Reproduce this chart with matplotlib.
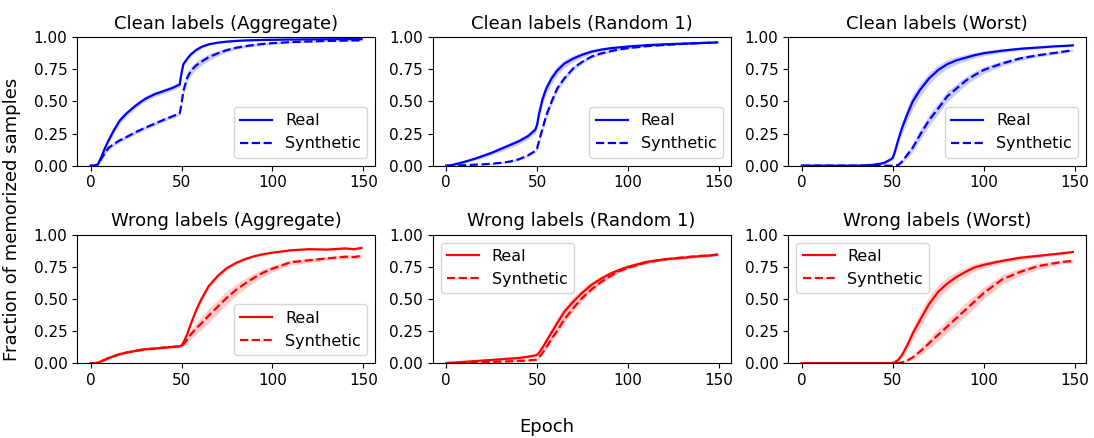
import numpy as np
import matplotlib
matplotlib.use("Agg")
import matplotlib.pyplot as plt

epochs = [0, 2, 4, 6, 8, 10, 13, 16, 20, 25, 30, 35, 40, 45, 49, 50, 51, 53, 55, 58,
          61, 65, 70, 75, 80, 85, 90, 95, 100, 110, 120, 130, 140, 145, 149]

# clean labels
clean_agg_real = [0, 0, 0.01, 0.07, 0.14, 0.2, 0.28, 0.35, 0.41, 0.47, 0.52, 0.555, 0.58, 0.605, 0.632, 0.72, 0.79, 0.83, 0.865, 0.9,
                  0.925, 0.945, 0.958, 0.966, 0.971, 0.975, 0.977, 0.979, 0.98, 0.982, 0.983, 0.984, 0.985, 0.985, 0.985]
clean_agg_syn = [0, 0, 0.01, 0.057, 0.1, 0.14, 0.17, 0.197, 0.225, 0.262, 0.295, 0.325, 0.356, 0.384, 0.407, 0.48, 0.58, 0.68, 0.735, 0.78,
                 0.81, 0.845, 0.875, 0.9, 0.918, 0.93, 0.94, 0.948, 0.954, 0.962, 0.967, 0.971, 0.974, 0.975, 0.976]
clean_r1_real = [0, 0.002, 0.008, 0.015, 0.022, 0.03, 0.042, 0.055, 0.075, 0.1, 0.13, 0.16, 0.19, 0.23, 0.28, 0.32, 0.4, 0.52, 0.6, 0.68,
                 0.74, 0.795, 0.835, 0.865, 0.888, 0.903, 0.914, 0.921, 0.928, 0.938, 0.945, 0.95, 0.955, 0.957, 0.96]
clean_r1_syn = [0, 0, 0, 0.001, 0.002, 0.004, 0.006, 0.008, 0.01, 0.015, 0.022, 0.032, 0.05, 0.08, 0.115, 0.135, 0.19, 0.29, 0.39, 0.5,
                0.6, 0.68, 0.76, 0.81, 0.85, 0.873, 0.89, 0.905, 0.915, 0.93, 0.94, 0.948, 0.955, 0.957, 0.96]
clean_worst_real = [0, 0, 0, 0, 0, 0, 0, 0, 0, 0, 0, 0.002, 0.008, 0.02, 0.05, 0.06, 0.1, 0.2, 0.29, 0.4,
                    0.5, 0.59, 0.68, 0.745, 0.79, 0.82, 0.84, 0.86, 0.875, 0.895, 0.91, 0.92, 0.93, 0.933, 0.937]
clean_worst_syn = [0, 0, 0, 0, 0, 0, 0, 0, 0, 0, 0, 0, 0, 0, 0, 0, 0, 0.005, 0.03, 0.085,
                   0.14, 0.24, 0.355, 0.445, 0.54, 0.6, 0.66, 0.705, 0.745, 0.795, 0.835, 0.86, 0.88, 0.89, 0.9]

# wrong labels
wrong_agg_real = [0, 0, 0.003, 0.015, 0.027, 0.04, 0.055, 0.07, 0.083, 0.096, 0.108, 0.113, 0.12, 0.126, 0.132, 0.137, 0.16, 0.22, 0.3, 0.41,
                  0.5, 0.6, 0.68, 0.74, 0.78, 0.81, 0.832, 0.848, 0.86, 0.878, 0.887, 0.884, 0.893, 0.887, 0.897]
wrong_agg_syn = [0, 0, 0.003, 0.015, 0.027, 0.04, 0.055, 0.07, 0.083, 0.096, 0.108, 0.113, 0.12, 0.126, 0.13, 0.133, 0.145, 0.18, 0.22, 0.27,
                 0.31, 0.37, 0.44, 0.51, 0.57, 0.62, 0.665, 0.705, 0.735, 0.785, 0.8, 0.815, 0.828, 0.826, 0.835]
wrong_r1_real = [0, 0.002, 0.004, 0.006, 0.008, 0.01, 0.013, 0.016, 0.02, 0.025, 0.03, 0.035, 0.04, 0.05, 0.06, 0.065, 0.08, 0.12, 0.17, 0.24,
                 0.31, 0.4, 0.48, 0.55, 0.61, 0.655, 0.695, 0.725, 0.75, 0.788, 0.808, 0.82, 0.833, 0.838, 0.845]
wrong_r1_syn = [0, 0.001, 0.001, 0.002, 0.002, 0.003, 0.004, 0.005, 0.007, 0.009, 0.012, 0.014, 0.017, 0.021, 0.025, 0.03, 0.045, 0.08, 0.12, 0.19,
                0.25, 0.34, 0.43, 0.51, 0.575, 0.63, 0.675, 0.715, 0.742, 0.783, 0.808, 0.823, 0.835, 0.838, 0.845]
wrong_worst_real = [0, 0, 0, 0, 0, 0, 0, 0, 0, 0, 0, 0, 0, 0, 0, 0.002, 0.006, 0.025, 0.06, 0.14,
                    0.23, 0.335, 0.46, 0.555, 0.62, 0.67, 0.71, 0.745, 0.765, 0.795, 0.82, 0.835, 0.85, 0.858, 0.865]
wrong_worst_syn = [0, 0, 0, 0, 0, 0, 0, 0, 0, 0, 0, 0, 0, 0, 0, 0, 0, 0, 0.005, 0.02,
                   0.045, 0.09, 0.155, 0.22, 0.285, 0.35, 0.415, 0.48, 0.545, 0.65, 0.71, 0.755, 0.78, 0.79, 0.795]

# spread (half width of the shaded band)
clean_agg_real_sd = [0, 0, 0.01, 0.02, 0.025, 0.025, 0.025, 0.025, 0.022, 0.02, 0.02, 0.02, 0.02, 0.02, 0.02, 0.02, 0.02, 0.018, 0.015, 0.012,
                     0.01, 0.008, 0.006, 0.005, 0.005, 0.004, 0.004, 0.004, 0.004, 0.003, 0.003, 0.003, 0.003, 0.003, 0.003]
clean_agg_syn_sd = [0, 0, 0.01, 0.015, 0.015, 0.015, 0.015, 0.015, 0.015, 0.015, 0.015, 0.015, 0.015, 0.015, 0.015, 0.02, 0.03, 0.035, 0.035, 0.03,
                    0.028, 0.025, 0.02, 0.016, 0.013, 0.011, 0.01, 0.009, 0.008, 0.007, 0.006, 0.005, 0.005, 0.005, 0.005]
clean_r1_real_sd = [0, 0.004, 0.006, 0.008, 0.009, 0.01, 0.012, 0.013, 0.015, 0.018, 0.02, 0.022, 0.024, 0.025, 0.027, 0.03, 0.035, 0.04, 0.042, 0.04,
                    0.035, 0.03, 0.025, 0.02, 0.015, 0.012, 0.01, 0.008, 0.007, 0.006, 0.005, 0.005, 0.005, 0.005, 0.005]
clean_r1_syn_sd = [0, 0, 0, 0.001, 0.001, 0.002, 0.002, 0.003, 0.003, 0.004, 0.005, 0.006, 0.008, 0.01, 0.012, 0.015, 0.02, 0.025, 0.028, 0.028,
                   0.026, 0.022, 0.018, 0.015, 0.012, 0.01, 0.008, 0.007, 0.006, 0.005, 0.005, 0.005, 0.005, 0.005, 0.005]
clean_worst_real_sd = [0, 0, 0, 0, 0, 0, 0, 0, 0, 0, 0, 0.002, 0.004, 0.006, 0.01, 0.012, 0.02, 0.035, 0.045, 0.055,
                       0.055, 0.05, 0.045, 0.04, 0.035, 0.03, 0.025, 0.022, 0.02, 0.015, 0.012, 0.01, 0.01, 0.008, 0.008]
clean_worst_syn_sd = [0, 0, 0, 0, 0, 0, 0, 0, 0, 0, 0, 0, 0, 0, 0, 0, 0, 0.005, 0.015, 0.025,
                      0.032, 0.04, 0.045, 0.045, 0.042, 0.038, 0.033, 0.03, 0.027, 0.02, 0.016, 0.013, 0.011, 0.01, 0.01]
wrong_agg_real_sd = [0, 0, 0.003, 0.006, 0.008, 0.008, 0.008, 0.008, 0.008, 0.008, 0.008, 0.008, 0.008, 0.008, 0.008, 0.008, 0.01, 0.014, 0.018, 0.022,
                     0.022, 0.02, 0.018, 0.015, 0.013, 0.011, 0.01, 0.009, 0.009, 0.008, 0.008, 0.008, 0.008, 0.008, 0.008]
wrong_agg_syn_sd = [0, 0, 0.003, 0.006, 0.008, 0.008, 0.008, 0.008, 0.008, 0.008, 0.008, 0.008, 0.008, 0.008, 0.008, 0.01, 0.015, 0.025, 0.035, 0.045,
                    0.05, 0.055, 0.055, 0.05, 0.045, 0.04, 0.035, 0.03, 0.025, 0.02, 0.018, 0.016, 0.015, 0.015, 0.015]
wrong_r1_real_sd = [0, 0.003, 0.004, 0.005, 0.005, 0.006, 0.006, 0.007, 0.007, 0.008, 0.008, 0.009, 0.01, 0.01, 0.012, 0.012, 0.015, 0.022, 0.03, 0.038,
                    0.042, 0.042, 0.038, 0.032, 0.027, 0.022, 0.018, 0.015, 0.013, 0.011, 0.01, 0.01, 0.009, 0.008, 0.008]
wrong_r1_syn_sd = [0, 0.001, 0.002, 0.002, 0.002, 0.003, 0.003, 0.003, 0.004, 0.004, 0.005, 0.005, 0.006, 0.006, 0.007, 0.008, 0.01, 0.015, 0.02, 0.024,
                   0.026, 0.026, 0.024, 0.021, 0.018, 0.015, 0.012, 0.011, 0.01, 0.009, 0.008, 0.008, 0.008, 0.008, 0.008]
wrong_worst_real_sd = [0, 0, 0, 0, 0, 0, 0, 0, 0, 0, 0, 0, 0, 0, 0, 0.002, 0.004, 0.01, 0.02, 0.035,
                       0.048, 0.058, 0.06, 0.055, 0.047, 0.04, 0.035, 0.03, 0.026, 0.02, 0.016, 0.013, 0.011, 0.01, 0.01]
wrong_worst_syn_sd = [0, 0, 0, 0, 0, 0, 0, 0, 0, 0, 0, 0, 0, 0, 0, 0, 0, 0, 0.004, 0.01,
                      0.018, 0.03, 0.04, 0.047, 0.05, 0.052, 0.052, 0.05, 0.045, 0.038, 0.03, 0.024, 0.018, 0.015, 0.013]

titles = ["Clean labels (Aggregate)", "Clean labels (Random 1)", "Clean labels (Worst)",
          "Wrong labels (Aggregate)", "Wrong labels (Random 1)", "Wrong labels (Worst)"]
panels = [
    (clean_agg_real, clean_agg_real_sd, clean_agg_syn, clean_agg_syn_sd),
    (clean_r1_real, clean_r1_real_sd, clean_r1_syn, clean_r1_syn_sd),
    (clean_worst_real, clean_worst_real_sd, clean_worst_syn, clean_worst_syn_sd),
    (wrong_agg_real, wrong_agg_real_sd, wrong_agg_syn, wrong_agg_syn_sd),
    (wrong_r1_real, wrong_r1_real_sd, wrong_r1_syn, wrong_r1_syn_sd),
    (wrong_worst_real, wrong_worst_real_sd, wrong_worst_syn, wrong_worst_syn_sd),
]
legend_locs = ["lower right", "lower right", "lower right", "lower right", "upper left", "upper left"]

fig, axes = plt.subplots(2, 3, figsize=(10.94, 4.38), dpi=100)
fig.subplots_adjust(left=0.0704, right=0.993, bottom=0.171, top=0.915, wspace=0.193, hspace=0.537)

x = np.array(epochs)
for i, ax in enumerate(axes.flat):
    color = "blue" if i < 3 else "red"
    real, real_sd, syn, syn_sd = [np.array(v) for v in panels[i]]
    ax.plot(x, real, color=color, linestyle="-", lw=1.6, label="Real")
    ax.fill_between(x, real - real_sd, real + real_sd, color=color, alpha=0.2, lw=0)
    ax.plot(x, syn, color=color, linestyle="--", lw=1.6, label="Synthetic")
    ax.fill_between(x, syn - syn_sd, syn + syn_sd, color=color, alpha=0.2, lw=0)
    ax.set_title(titles[i], fontsize=13)
    ax.set_ylim(0, 1)
    ax.set_yticks([0, 0.25, 0.5, 0.75, 1.0])
    ax.set_yticklabels(["0.00", "0.25", "0.50", "0.75", "1.00"])
    ax.set_xticks([0, 50, 100, 150])
    ax.tick_params(labelsize=11)
    ax.legend(loc=legend_locs[i], fontsize=11.5)

fig.supxlabel("Epoch", fontsize=13, y=0.005)
fig.supylabel("Fraction of memorized samples", fontsize=13, x=0.003)

fig.savefig("out.png", dpi=100)
